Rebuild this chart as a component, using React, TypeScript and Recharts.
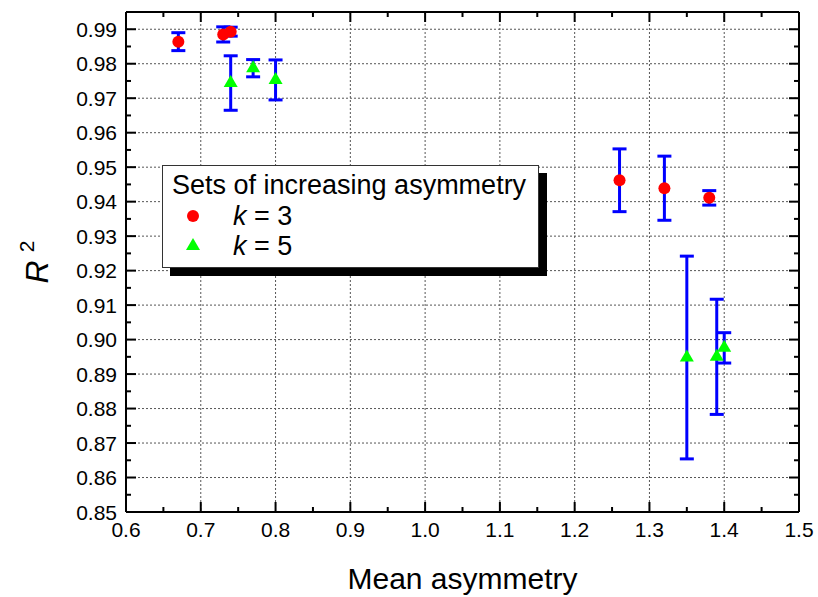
import React from 'react';
import { ScatterChart, Scatter, XAxis, YAxis, CartesianGrid, ErrorBar, Legend } from 'recharts';

// k = 3 series: mean asymmetry, R², error half-width
const k3X = [0.67, 0.73, 0.74, 1.26, 1.32, 1.38];
const k3Y = [0.9864, 0.9885, 0.9893, 0.9462, 0.9439, 0.9411];
const k3Err = [0.0026, 0.0022, 0.0013, 0.0091, 0.0093, 0.0021];

// k = 5 series
const k5X = [0.74, 0.77, 0.8, 1.35, 1.39, 1.4];
const k5Y = [0.9744, 0.9787, 0.9753, 0.8948, 0.895, 0.8976];
const k5Err = [0.0079, 0.0025, 0.0058, 0.0294, 0.0167, 0.0044];

// Axis ticks
const xMajor = [0.6, 0.7, 0.8, 0.9, 1.0, 1.1, 1.2, 1.3, 1.4, 1.5];
const xMinor = [0.65, 0.75, 0.85, 0.95, 1.05, 1.15, 1.25, 1.35, 1.45];
const yMajor = [0.85, 0.86, 0.87, 0.88, 0.89, 0.9, 0.91, 0.92, 0.93, 0.94, 0.95, 0.96, 0.97, 0.98, 0.99];
const yMinor = [0.855, 0.865, 0.875, 0.885, 0.895, 0.905, 0.915, 0.925, 0.935, 0.945, 0.955, 0.965, 0.975, 0.985, 0.995];

const xDomain: [number, number] = [0.6, 1.5];
const yDomain: [number, number] = [0.85, 0.995];

const k3Data = k3X.map((x, i) => ({ x, y: k3Y[i], err: k3Err[i] }));
const k5Data = k5X.map((x, i) => ({ x, y: k5Y[i], err: k5Err[i] }));

const xTicks = [...xMajor, ...xMinor].sort((a, b) => a - b);
const yTicks = [...yMajor, ...yMinor].sort((a, b) => a - b);

const FONT = "'Liberation Sans', Arial, Helvetica, sans-serif";
const TICK_FONT = 21;
const MAJOR_LEN = 10;
const MINOR_LEN = 5;
const LABEL_GAP = 9;

const isMajor = (v: number, majors: number[]) => majors.some((m) => Math.abs(m - v) < 1e-9);

function BottomTick(props: any) {
  const { x, y, payload } = props;
  const major = isMajor(payload.value, xMajor);
  const axisY = y - LABEL_GAP;
  return (
    <g>
      <line x1={x} x2={x} y1={axisY} y2={axisY - (major ? MAJOR_LEN : MINOR_LEN)} stroke="#000" strokeWidth={2} />
      {major && (
        <text x={x} y={y} dy="0.78em" textAnchor="middle" fontSize={TICK_FONT} fontFamily={FONT} fill="#000">
          {payload.value.toFixed(1)}
        </text>
      )}
    </g>
  );
}

function TopTick(props: any) {
  const { x, y, payload } = props;
  const major = isMajor(payload.value, xMajor);
  return <line x1={x} x2={x} y1={y} y2={y + (major ? MAJOR_LEN : MINOR_LEN)} stroke="#000" strokeWidth={2} />;
}

function LeftTick(props: any) {
  const { x, y, payload } = props;
  const major = isMajor(payload.value, yMajor);
  const axisX = x + LABEL_GAP;
  return (
    <g>
      <line x1={axisX} x2={axisX + (major ? MAJOR_LEN : MINOR_LEN)} y1={y} y2={y} stroke="#000" strokeWidth={2} />
      {major && (
        <text x={x} y={y} dy="0.36em" textAnchor="end" fontSize={TICK_FONT} fontFamily={FONT} fill="#000">
          {payload.value.toFixed(2)}
        </text>
      )}
    </g>
  );
}

function RightTick(props: any) {
  const { x, y, payload } = props;
  const major = isMajor(payload.value, yMajor);
  return <line x1={x} x2={x - (major ? MAJOR_LEN : MINOR_LEN)} y1={y} y2={y} stroke="#000" strokeWidth={2} />;
}

function CircleMark(props: any) {
  const { cx, cy } = props;
  return <circle cx={cx} cy={cy} r={6} fill="#ff0000" />;
}

function TriangleMark(props: any) {
  const { cx, cy } = props;
  const w = 14;
  const h = 12;
  // centroid at the data point
  const pts = `${cx},${cy - (2 * h) / 3} ${cx - w / 2},${cy + h / 3} ${cx + w / 2},${cy + h / 3}`;
  return <polygon points={pts} fill="#00ff00" />;
}

function YTitle(props: any) {
  const { viewBox } = props;
  const cy = viewBox.y + viewBox.height / 2;
  const cx = 48;
  return (
    <text
      x={cx}
      y={cy}
      transform={`rotate(-90, ${cx}, ${cy})`}
      textAnchor="middle"
      fontSize={32}
      fontFamily={FONT}
      fill="#000"
    >
      <tspan fontStyle="italic">R</tspan>
      <tspan dx={8} dy={-14} fontSize={21}>2</tspan>
    </text>
  );
}

function XTitle(props: any) {
  const { viewBox } = props;
  const cx = viewBox.x + viewBox.width / 2;
  return (
    <text x={cx} y={589} textAnchor="middle" fontSize={30} fontFamily={FONT} fill="#000">
      Mean asymmetry
    </text>
  );
}

function LegendBox() {
  const row: React.CSSProperties = { display: 'flex', alignItems: 'center', height: 30 };
  return (
    <div
      style={{
        width: 375,
        height: 101,
        border: '1px solid #333',
        background: '#fff',
        boxShadow: '8px 8px 0 #000',
        fontFamily: FONT,
        color: '#000',
        boxSizing: 'content-box',
      }}
    >
      <div style={{ fontSize: 27, lineHeight: '32px', paddingLeft: 9, paddingTop: 3, whiteSpace: 'nowrap' }}>
        Sets of increasing asymmetry
      </div>
      <div style={row}>
        <svg width={60} height={30}>
          <circle cx={30} cy={15} r={6} fill="#ff0000" />
        </svg>
        <span style={{ fontSize: 27, marginLeft: 10 }}>
          <i>k</i> = 3
        </span>
      </div>
      <div style={row}>
        <svg width={60} height={30}>
          <polygon points="30,7 23,19 37,19" fill="#00ff00" />
        </svg>
        <span style={{ fontSize: 27, marginLeft: 10 }}>
          <i>k</i> = 5
        </span>
      </div>
    </div>
  );
}

export default function App() {
  return (
    <div style={{ position: 'absolute', left: 0, top: 0, width: 818, height: 597, background: '#fff' }}>
      <ScatterChart width={818} height={597} margin={{ top: 11, right: 18, bottom: 0, left: 0 }}>
        <CartesianGrid
          horizontalValues={yMajor}
          verticalValues={xMajor}
          stroke="#555"
          strokeDasharray="2 2"
          strokeWidth={1}
        />
        <XAxis
          dataKey="x"
          type="number"
          domain={xDomain}
          ticks={xTicks}
          interval={0}
          allowDataOverflow
          height={85}
          tickSize={0}
          tickMargin={LABEL_GAP}
          tickLine={false}
          tick={<BottomTick />}
          axisLine={{ stroke: '#000', strokeWidth: 2 }}
          label={<XTitle />}
        />
        <XAxis
          xAxisId="top"
          orientation="top"
          dataKey="x"
          type="number"
          domain={xDomain}
          ticks={xTicks}
          interval={0}
          allowDataOverflow
          height={1}
          tickSize={0}
          tickMargin={0}
          tickLine={false}
          tick={<TopTick />}
          axisLine={{ stroke: '#000', strokeWidth: 2 }}
        />
        <YAxis
          dataKey="y"
          type="number"
          domain={yDomain}
          ticks={yTicks}
          interval={0}
          allowDataOverflow
          width={126}
          tickSize={0}
          tickMargin={LABEL_GAP}
          tickLine={false}
          tick={<LeftTick />}
          axisLine={{ stroke: '#000', strokeWidth: 2 }}
          label={<YTitle />}
        />
        <YAxis
          yAxisId="right"
          orientation="right"
          dataKey="y"
          type="number"
          domain={yDomain}
          ticks={yTicks}
          interval={0}
          allowDataOverflow
          width={1}
          tickSize={0}
          tickMargin={0}
          tickLine={false}
          tick={<RightTick />}
          axisLine={{ stroke: '#000', strokeWidth: 2 }}
        />
        <Legend
          layout="horizontal"
          verticalAlign="middle"
          content={() => <LegendBox />}
          wrapperStyle={{ position: 'absolute', left: 162, top: 165, width: 'auto', height: 'auto' }}
        />
        <Scatter name="k = 3" data={k3Data} shape={<CircleMark />} isAnimationActive={false}>
          <ErrorBar dataKey="err" direction="y" width={7} strokeWidth={3} stroke="#0000ff" />
        </Scatter>
        <Scatter name="k = 5" data={k5Data} shape={<TriangleMark />} isAnimationActive={false}>
          <ErrorBar dataKey="err" direction="y" width={7} strokeWidth={3} stroke="#0000ff" />
        </Scatter>
      </ScatterChart>
    </div>
  );
}
